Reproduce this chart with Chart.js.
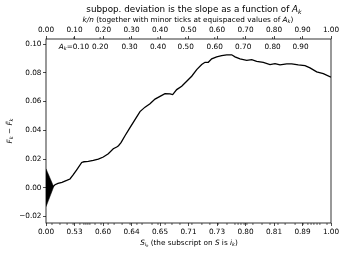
<!DOCTYPE html>
<html>
<head>
<meta charset="utf-8">
<script src="https://cdn.jsdelivr.net/npm/chart.js@4.4.0/dist/chart.umd.min.js"></script>
<style>
  html, body { margin: 0; padding: 0; background: #fff; }
  canvas { display: block; }
</style>
</head>
<body>
<canvas id="grafico" width="345" height="254"></canvas>
<script>
// k/n and the cumulative deviation
const kn = [0, 0.0256, 0.0316, 0.0421, 0.0561, 0.0726, 0.0842, 0.0958, 0.1077, 0.1253,
  0.1333, 0.1484, 0.1660, 0.1835, 0.2011, 0.2186, 0.2361, 0.2481, 0.2544, 0.2632,
  0.2772, 0.2947, 0.3123, 0.3298, 0.3474, 0.3649, 0.3825, 0.4000, 0.4175, 0.4351,
  0.4446, 0.4586, 0.4761, 0.4937, 0.5112, 0.5288, 0.5463, 0.5579, 0.5695, 0.5814,
  0.5989, 0.6165, 0.6340, 0.6516, 0.6632, 0.6807, 0.7042, 0.7218, 0.7393, 0.7625,
  0.7860, 0.8035, 0.8211, 0.8446, 0.8621, 0.8853, 0.9088, 0.9263, 0.9498, 0.9730, 1.0];
const dev = [0, 0.0009, 0.0021, 0.0031, 0.0038, 0.0051, 0.0061, 0.0091, 0.0125, 0.0176,
  0.0181, 0.0183, 0.0190, 0.0200, 0.0214, 0.0237, 0.0272, 0.0284, 0.0293, 0.0314,
  0.0362, 0.0418, 0.0474, 0.0530, 0.0561, 0.0585, 0.0617, 0.0636, 0.0655, 0.0653,
  0.0648, 0.0683, 0.0706, 0.0741, 0.0776, 0.0822, 0.0857, 0.0873, 0.0873, 0.0897,
  0.0911, 0.0920, 0.0925, 0.0925, 0.0911, 0.0897, 0.0887, 0.0892, 0.0880, 0.0873,
  0.0857, 0.0864, 0.0855, 0.0862, 0.0862, 0.0855, 0.0850, 0.0834, 0.0806, 0.0794, 0.0770];

// triangle at the origin
const triX = [0, 0.027, 0];
const triY = [0.0132, 0.0007, -0.0132];

const majorX = [0, 0.1, 0.2, 0.3, 0.4, 0.5, 0.6, 0.7, 0.8, 0.9, 1.0];
const topLabels = ['0.00', '0.10', '0.20', '0.30', '0.40', '0.50', '0.60', '0.70', '0.80', '0.90', '1.00'];
const sLabels = ['0.00', '0.53', '0.60', '0.64', '0.65', '0.71', '0.73', '0.80', '0.81', '0.89', '1.00'];
const yTicks = [-0.02, 0, 0.02, 0.04, 0.06, 0.08, 0.10];

// equispaced values of A_k (top minor ticks, labels inside)
const akPos = [0.098, 0.19, 0.293, 0.393, 0.49, 0.592, 0.692, 0.795, 0.893];
const akLabels = ['0.10', '0.20', '0.30', '0.40', '0.50', '0.60', '0.70', '0.80', '0.90'];

// bottom minor ticks
const sMinor = [0.021, 0.049, 0.074, 0.095, 0.119, 0.133, 0.140, 0.147, 0.154, 0.172,
  0.193, 0.218, 0.239, 0.267, 0.295, 0.319, 0.337, 0.372, 0.393, 0.418, 0.442, 0.470,
  0.512, 0.547, 0.575, 0.604, 0.635, 0.663, 0.674, 0.684, 0.695, 0.705, 0.726, 0.758,
  0.786, 0.814, 0.839, 0.874, 0.902, 0.919, 0.930, 0.940, 0.951, 0.961, 0.986];

const FAM = '"DejaVu Sans", sans-serif';
const TS = 7.3;   // tick and label size

function segFont(kind, size) {
  let s = size, it = kind !== 'r';
  if (kind === 's') s = size * 0.7;
  if (kind === 'ss') s = size * 0.5;
  return { font: (it ? 'italic ' : '') + s + 'px ' + FAM, shift: kind === 's' ? size * 0.22 : (kind === 'ss' ? size * 0.38 : 0) };
}

function drawRich(ctx, segs, x, y, size) {
  let total = 0;
  segs.forEach(sg => { ctx.font = segFont(sg[1], size).font; total += ctx.measureText(sg[0]).width; });
  let cx = x - total / 2;
  ctx.textBaseline = 'middle';
  ctx.textAlign = 'left';
  segs.forEach(sg => {
    const f = segFont(sg[1], size);
    ctx.font = f.font;
    ctx.fillText(sg[0], cx, y + f.shift);
    cx += ctx.measureText(sg[0]).width;
  });
}

const decor = {
  id: 'decor',
  afterDraw(chart) {
    const ctx = chart.ctx, a = chart.chartArea;
    const sx = chart.scales.x;
    ctx.save();
    ctx.strokeStyle = '#000';
    ctx.lineWidth = 0.8;
    ctx.strokeRect(a.left, a.top, a.right - a.left, a.bottom - a.top);

    ctx.beginPath();
    sMinor.forEach(v => {
      const p = sx.getPixelForValue(v);
      ctx.moveTo(p, a.bottom); ctx.lineTo(p, a.bottom + 2);
    });
    akPos.forEach(v => {
      const p = sx.getPixelForValue(v);
      ctx.moveTo(p, a.top); ctx.lineTo(p, a.top - 2);
    });
    ctx.lineWidth = 0.6;
    ctx.stroke();

    ctx.fillStyle = '#000';
    // inner labels
    akLabels.forEach((t, i) => {
      const segs = i === 0 ? [['A', 'i'], ['k', 's'], ['=' + t, 'r']] : [[t, 'r']];
      drawRich(ctx, segs, sx.getPixelForValue(akPos[i]), 47.5, TS);
    });

    // titles
    drawRich(ctx, [['subpop. deviation is the slope as a function of ', 'r'], ['A', 'i'], ['k', 's']], 194, 10, 8.8);
    drawRich(ctx, [['k/n', 'i'], [' (together with minor ticks at equispaced values of ', 'r'], ['A', 'i'], ['k', 's'], [')', 'r']], 188, 20.5, TS);
    drawRich(ctx, [['S', 'i'], ['i', 's'], ['k', 'ss'], [' (the subscript on ', 'r'], ['S', 'i'], [' is ', 'r'], ['i', 'i'], ['k', 's'], [')', 'r']], 189, 243.5, TS);

    ctx.translate(10, 131);
    ctx.rotate(-Math.PI / 2);
    drawRich(ctx, [['F', 'i'], ['k', 's'], [' \u2212 ', 'r'], ['F\u0303', 'i'], ['k', 's']], 0, 0, TS);
    ctx.restore();
  }
};

const tickFont = { family: FAM, size: TS };
const tickGrid = { drawOnChartArea: false, drawTicks: true, tickLength: 3, tickColor: '#000', lineWidth: 0.7 };

const ctx = document.getElementById('grafico').getContext('2d');
new Chart(ctx, {
  type: 'scatter',
  data: {
    datasets: [{
      data: triX.map((v, i) => ({ x: v, y: triY[i] })),
      showLine: true,
      borderColor: '#000',
      backgroundColor: '#000',
      borderWidth: 0.5,
      pointRadius: 0,
      fill: 'shape'
    }, {
      data: kn.map((v, i) => ({ x: v, y: dev[i] })),
      showLine: true,
      borderColor: '#000',
      borderWidth: 1.3,
      pointRadius: 0,
      fill: false,
      tension: 0
    }]
  },
  options: {
    responsive: false,
    animation: false,
    layout: { padding: { left: 0, right: 14, top: 0, bottom: 0 } },
    plugins: { legend: { display: false }, tooltip: { enabled: false } },
    scales: {
      x: {
        type: 'linear', position: 'bottom', min: 0, max: 1,
        afterBuildTicks: s => { s.ticks = majorX.map(v => ({ value: v })); },
        afterFit: s => { s.height = 31; },
        ticks: { font: tickFont, color: '#000', padding: 1.5, autoSkip: false, maxRotation: 0,
          callback: (v, i) => sLabels[i] },
        grid: tickGrid,
        border: { display: false }
      },
      x2: {
        type: 'linear', position: 'top', min: 0, max: 1,
        afterBuildTicks: s => { s.ticks = majorX.map(v => ({ value: v })); },
        afterFit: s => { s.height = 39; },
        ticks: { font: tickFont, color: '#000', padding: 1.5, autoSkip: false, maxRotation: 0,
          callback: (v, i) => topLabels[i] },
        grid: tickGrid,
        border: { display: false }
      },
      y: {
        type: 'linear', position: 'left', min: -0.0245, max: 0.1035,
        afterBuildTicks: s => { s.ticks = yTicks.map(v => ({ value: v })); },
        afterFit: s => { s.width = 46; },
        ticks: { font: tickFont, color: '#000', padding: 1.5,
          callback: v => (v < 0 ? '\u2212' : '') + Math.abs(v).toFixed(2) },
        grid: tickGrid,
        border: { display: false }
      }
    }
  },
  plugins: [decor]
});
</script>
</body>
</html>
